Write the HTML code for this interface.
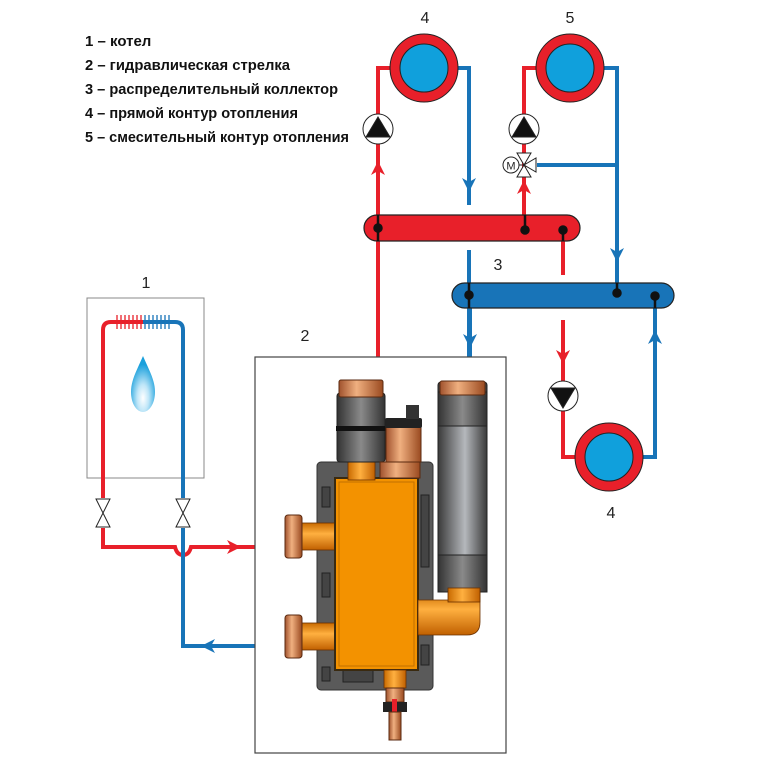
<!DOCTYPE html>
<html><head><meta charset="utf-8"><style>
html,body{margin:0;padding:0;background:#fff;}
svg{display:block;font-family:"Liberation Sans",sans-serif;}
</style></head><body>
<svg width="760" height="760" viewBox="0 0 760 760" xmlns="http://www.w3.org/2000/svg">
<defs>
<linearGradient id="cyl" x1="0" x2="1"><stop offset="0" stop-color="#333"/><stop offset="0.5" stop-color="#8a8a8a"/><stop offset="1" stop-color="#333"/></linearGradient>
<linearGradient id="cyl2" x1="0" x2="1"><stop offset="0" stop-color="#3a3a3a"/><stop offset="0.55" stop-color="#b5b8bc"/><stop offset="1" stop-color="#3a3a3a"/></linearGradient>
<linearGradient id="cop" x1="0" x2="1"><stop offset="0" stop-color="#a0522d"/><stop offset="0.4" stop-color="#f0b080"/><stop offset="1" stop-color="#9a4a20"/></linearGradient>
<linearGradient id="pipeH" x1="0" y1="0" x2="0" y2="1"><stop offset="0" stop-color="#c86a00"/><stop offset="0.4" stop-color="#ffb040"/><stop offset="1" stop-color="#c06000"/></linearGradient>
<linearGradient id="pipeV" x1="0" x2="1"><stop offset="0" stop-color="#c86a00"/><stop offset="0.45" stop-color="#ffb040"/><stop offset="1" stop-color="#c06000"/></linearGradient>
<radialGradient id="flame" cx="0.5" cy="0.75" r="0.6"><stop offset="0" stop-color="#fff"/><stop offset="0.4" stop-color="#bfe6f8"/><stop offset="1" stop-color="#1aa0dc"/></radialGradient>
</defs>

<!-- legend -->
<g font-weight="bold" font-size="15" fill="#111">
<text x="85" y="46">1 – котел</text>
<text x="85" y="70" textLength="205" lengthAdjust="spacingAndGlyphs">2 – гидравлическая стрелка</text>
<text x="85" y="94" textLength="253" lengthAdjust="spacingAndGlyphs">3 – распределительный коллектор</text>
<text x="85" y="118" textLength="213" lengthAdjust="spacingAndGlyphs">4 – прямой контур отопления</text>
<text x="85" y="142" textLength="264" lengthAdjust="spacingAndGlyphs">5 – смесительный контур отопления</text>
</g>
<g font-size="16" fill="#222">
<text x="425" y="23" text-anchor="middle">4</text>
<text x="570" y="23" text-anchor="middle">5</text>
<text x="498" y="270" text-anchor="middle">3</text>
<text x="146" y="288" text-anchor="middle">1</text>
<text x="305" y="341" text-anchor="middle">2</text>
<text x="611" y="518" text-anchor="middle">4</text>
</g>

<!-- pipes top system -->
<g fill="none" stroke-width="4">
<polyline points="392,68 378,68 378,357" stroke="#e8202a"/>
<polyline points="456,68 469,68 469,205" stroke="#1874b8"/>
<line x1="469" y1="250" x2="469" y2="357" stroke="#1874b8"/>
<polyline points="538,68 524,68 524,230" stroke="#e8202a"/>
<polyline points="604,68 617,68 617,295" stroke="#1874b8"/>
<line x1="617" y1="165" x2="537" y2="165" stroke="#1874b8"/>
<line x1="563" y1="230" x2="563" y2="275" stroke="#e8202a"/>
<polyline points="563,320 563,457 577,457" stroke="#e8202a"/>
<line x1="470" y1="295" x2="470" y2="357" stroke="#1874b8"/>
<polyline points="641,457 655,457 655,296" stroke="#1874b8"/>
</g>
<!-- arrowheads -->
<g>
<path d="M378,161 l-7,14 l7,-4 l7,4z" fill="#e8202a"/>
<path d="M524,180 l-7,14 l7,-4 l7,4z" fill="#e8202a"/>
<path d="M469,192 l-7,-14 l7,4 l7,-4z" fill="#1874b8"/>
<path d="M617,262 l-7,-14 l7,4 l7,-4z" fill="#1874b8"/>
<path d="M470,348 l-7,-14 l7,4 l7,-4z" fill="#1874b8"/>
<path d="M563,364 l-7,-14 l7,4 l7,-4z" fill="#e8202a"/>
<path d="M655,330 l-7,14 l7,-4 l7,4z" fill="#1874b8"/>
</g>

<!-- radiators -->
<g stroke="#222" stroke-width="1">
<circle cx="424" cy="68" r="34" fill="#e8202a"/><circle cx="424" cy="68" r="24" fill="#10a0dc"/>
<circle cx="570" cy="68" r="34" fill="#e8202a"/><circle cx="570" cy="68" r="24" fill="#10a0dc"/>
<circle cx="609" cy="457" r="34" fill="#e8202a"/><circle cx="609" cy="457" r="24" fill="#10a0dc"/>
</g>

<!-- collectors -->
<rect x="364" y="215" width="216" height="26" rx="13" fill="#e8202a" stroke="#222" stroke-width="1.2"/>
<rect x="452" y="283" width="222" height="25" rx="12.5" fill="#1874b8" stroke="#222" stroke-width="1.2"/>
<g stroke="#111" stroke-width="2.5" fill="#111">
<line x1="378" y1="215" x2="378" y2="241"/><circle cx="378" cy="228" r="3.5"/>
<line x1="525" y1="215" x2="525" y2="230"/><circle cx="525" cy="230" r="3.5"/>
<line x1="563" y1="230" x2="563" y2="241"/><circle cx="563" cy="230" r="3.5"/>
<line x1="469" y1="283" x2="469" y2="308"/><circle cx="469" cy="295" r="3.5"/>
<line x1="617" y1="283" x2="617" y2="293"/><circle cx="617" cy="293" r="3.5"/>
<line x1="655" y1="296" x2="655" y2="308"/><circle cx="655" cy="296" r="3.5"/>
</g>

<!-- pumps -->
<g stroke="#222" stroke-width="1">
<circle cx="378" cy="129" r="15" fill="#fff"/><path d="M366,137 L378,117 L390,137z" fill="#111"/>
<circle cx="524" cy="129" r="15" fill="#fff"/><path d="M512,137 L524,117 L536,137z" fill="#111"/>
<circle cx="563" cy="396" r="15" fill="#fff"/><path d="M551,388 L563,408 L575,388z" fill="#111"/>
<circle cx="183" cy="444" r="15" fill="#fff"/><path d="M171,452 L183,432 L195,452z" fill="#111"/>
</g>
<!-- mixing valve -->
<g stroke="#222" stroke-width="1" fill="#fff">
<path d="M517,153 L531,153 L524,165z M517,177 L531,177 L524,165z M536,158 L536,172 L524,165z"/>
<line x1="519" y1="165" x2="524" y2="165"/>
<circle cx="511" cy="165" r="8"/>
</g>
<text x="511" y="169.5" font-size="11" text-anchor="middle" fill="#222">M</text>

<!-- boiler -->
<rect x="87" y="298" width="117" height="180" fill="#fff" stroke="#888" stroke-width="1"/>
<g fill="none" stroke-width="4">
<path d="M103,498 L103,330 Q103,322 111,322 L143,322" stroke="#e8202a"/>
<path d="M143,322 L175,322 Q183,322 183,330 L183,498" stroke="#1874b8"/>
<path d="M103,528 L103,547 L175,547 Q177,555 183,555 Q189,555 191,547 L256,547" stroke="#e8202a"/>
<path d="M183,528 L183,646 L256,646" stroke="#1874b8"/>
</g>
<g stroke-width="1.3">
<path d="M117,315v14M121,315v14M125,315v14M129,315v14M133,315v14M137,315v14M141,315v14" stroke="#e8202a"/>
<path d="M145,315v14M149,315v14M153,315v14M157,315v14M161,315v14M165,315v14M169,315v14" stroke="#1874b8"/>
</g>
<path d="M143,356 C137,370 131,380 131,392 C131,404 137,412 143,412 C149,412 155,404 155,392 C155,380 149,370 143,356z" fill="url(#flame)"/>
<g stroke="#222" stroke-width="1" fill="#fff">
<path d="M96,499 L110,499 L103,513z M96,527 L110,527 L103,513z"/>
<path d="M176,499 L190,499 L183,513z M176,527 L190,527 L183,513z"/>
</g>
<path d="M241,547 l-14,-7 l4,7 l-4,7z" fill="#e8202a"/>
<path d="M201,646 l14,-7 l-4,7 l4,7z" fill="#1874b8"/>

<!-- device frame -->
<rect x="255" y="357" width="251" height="396" fill="#fff" stroke="#444" stroke-width="1.2"/>

<!-- backplate -->
<rect x="317" y="462" width="116" height="228" rx="4" fill="#5a5a5a" stroke="#333"/>
<g fill="#444" stroke="#222" stroke-width="1">
<rect x="322" y="487" width="8" height="20"/><rect x="322" y="573" width="8" height="24"/><rect x="322" y="667" width="8" height="14"/>
<rect x="421" y="495" width="8" height="72"/><rect x="421" y="645" width="8" height="20"/>
<rect x="343" y="670" width="30" height="12"/>
</g>
<!-- left fittings -->
<rect x="302" y="523" width="36" height="27" fill="url(#pipeH)" stroke="#6a3000" stroke-width="0.8"/>
<rect x="285" y="515" width="17" height="43" rx="3" fill="url(#cop)" stroke="#5a2a10"/>
<rect x="302" y="623" width="36" height="27" fill="url(#pipeH)" stroke="#6a3000" stroke-width="0.8"/>
<rect x="285" y="615" width="17" height="43" rx="3" fill="url(#cop)" stroke="#5a2a10"/>
<!-- body -->
<rect x="335" y="478" width="83" height="192" fill="#f39200" stroke="#3a2a10" stroke-width="2"/>
<rect x="339" y="482" width="75" height="184" fill="none" stroke="#c07000" stroke-width="1"/>
<!-- left column -->
<rect x="348" y="458" width="27" height="22" fill="url(#pipeV)" stroke="#6a3000" stroke-width="0.8"/>
<rect x="337" y="393" width="48" height="69" rx="3" fill="url(#cyl)" stroke="#222"/>
<rect x="336" y="426" width="50" height="5" fill="#111"/>
<rect x="339" y="380" width="44" height="17" rx="2" fill="url(#cop)" stroke="#5a2a10"/>
<!-- air vent -->
<rect x="380" y="462" width="40" height="16" fill="url(#cop)" stroke="#5a2a10"/>
<rect x="386" y="425" width="35" height="37" fill="url(#cop)" stroke="#5a2a10"/>
<rect x="385" y="418" width="37" height="10" rx="2" fill="#222"/>
<rect x="406" y="405" width="13" height="14" fill="#333"/>
<!-- right column -->
<rect x="438" y="382" width="49" height="210" rx="3" fill="url(#cyl2)" stroke="#222"/>
<rect x="438" y="392" width="49" height="34" fill="url(#cyl)" stroke="#222"/>
<rect x="438" y="555" width="49" height="37" fill="url(#cyl)" stroke="#222"/>
<rect x="440" y="381" width="45" height="14" rx="2" fill="url(#cop)" stroke="#5a2a10"/>
<!-- elbow -->
<path d="M418,600 L465,600 L465,592 L480,592 L480,622 Q480,635 467,635 L418,635 z" fill="url(#pipeH)" stroke="#6a3000" stroke-width="0.8"/>
<rect x="448" y="588" width="32" height="14" fill="url(#pipeV)" stroke="#6a3000" stroke-width="0.8"/>
<!-- drain -->
<rect x="384" y="670" width="22" height="18" fill="url(#pipeV)" stroke="#6a3000" stroke-width="0.8"/>
<rect x="386" y="688" width="18" height="14" fill="url(#cop)" stroke="#5a2a10"/>
<rect x="383" y="702" width="24" height="10" fill="#222"/>
<rect x="392" y="699" width="5" height="16" fill="#e8202a"/>
<rect x="389" y="712" width="12" height="28" fill="url(#cop)" stroke="#5a2a10"/>
</svg>
</body></html>
